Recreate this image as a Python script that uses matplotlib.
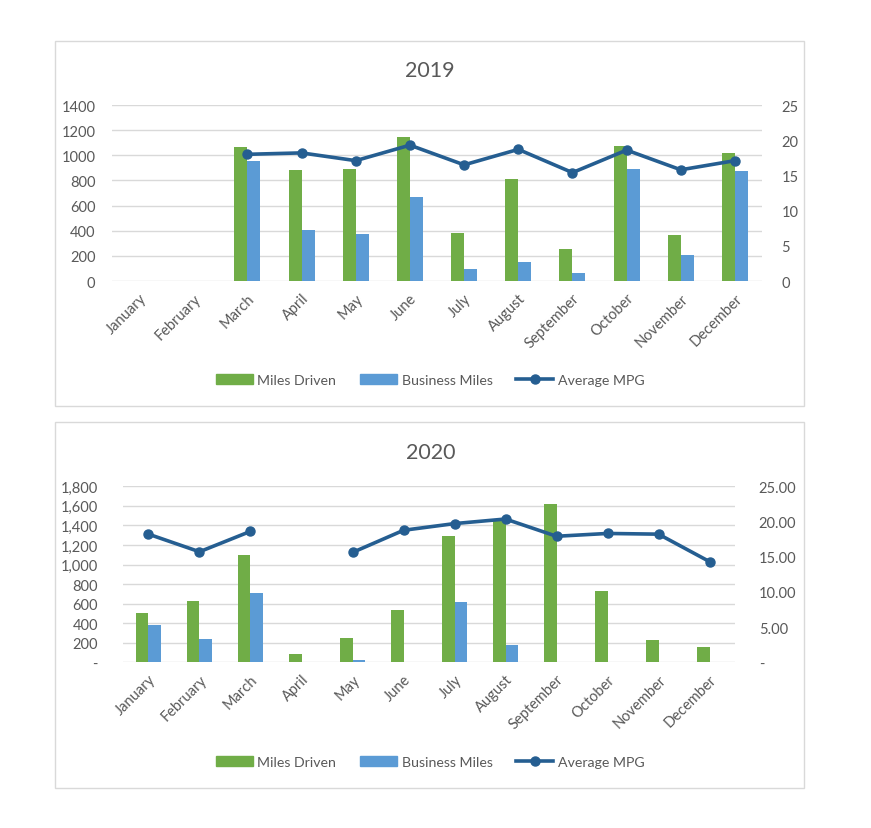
import numpy as np
import matplotlib
matplotlib.use("Agg")
import matplotlib.pyplot as plt
from matplotlib.patches import Rectangle, Patch
from matplotlib.lines import Line2D
from matplotlib.ticker import FuncFormatter

months = ['January', 'February', 'March', 'April', 'May', 'June', 'July',
          'August', 'September', 'October', 'November', 'December']

miles_2019 = [0, 0, 1065, 880, 890, 1145, 383, 809, 254, 1075, 370, 1017]
business_2019 = [0, 0, 954, 407, 375, 668, 92, 155, 63, 890, 209, 875]
mpg_2019 = [np.nan, np.nan, 18.0, 18.2, 17.1, 19.3, 16.5, 18.7, 15.4, 18.6, 15.8, 17.1]

miles_2020 = [501, 627, 1100, 82, 245, 532, 1292, 1448, 1622, 729, 225, 153]
business_2020 = [378, 238, 706, 0, 24, 0, 614, 177, 0, 0, 0, 0]
mpg_2020 = [18.2, 15.7, 18.6, np.nan, 15.6, 18.75, 19.7, 20.35, 17.9, 18.3, 18.2, 14.3]

GREEN = '#70AD47'
BLUE = '#5B9BD5'
LINE = '#255E91'
GRAY = '#595959'
GRID = '#D9D9D9'

plt.rcParams['font.family'] = ['Lato', 'DejaVu Sans']

fig = plt.figure(figsize=(8.71, 8.29), dpi=100)

# panel frames
for y0, h in [(0.509, 0.4403), (0.0483, 0.4414)]:
    fig.patches.append(Rectangle((0.0631, y0), 0.8599, h, transform=fig.transFigure,
                                 fill=False, edgecolor='#D9D9D9', lw=1))


def draw_panel(rect, title, title_y, legend_y, miles, business, mpg, ymax, fmt_left, fmt_right,
               lpad, rpad):
    ax = fig.add_axes(rect)
    x = np.arange(len(months))
    w = 0.24
    ax.bar(x - w / 2, miles, w, color=GREEN, zorder=2)
    ax.bar(x + w / 2, business, w, color=BLUE, zorder=2)
    ax.set_xlim(-0.5, 11.5)
    ax.set_ylim(0, ymax)
    ax.set_yticks(np.arange(0, ymax + 1, 200))
    ax.yaxis.set_major_formatter(FuncFormatter(fmt_left))
    ax.grid(axis='y', color=GRID, lw=1, zorder=0)
    ax.set_axisbelow(True)
    for s in ax.spines.values():
        s.set_visible(False)
    ax.set_xticks(x)
    ax.set_xticklabels(months, rotation=45, ha='right', rotation_mode='anchor')
    ax.tick_params(axis='both', length=0, colors=GRAY, labelsize=10.5)
    ax.tick_params(axis='y', pad=lpad)
    ax.tick_params(axis='x', pad=7)

    ax2 = ax.twinx()
    ax2.plot(x, mpg, color=LINE, lw=2.6, marker='o', ms=6.5, zorder=3)
    ax2.set_ylim(0, 25)
    ax2.set_yticks(np.arange(0, 26, 5))
    ax2.yaxis.set_major_formatter(FuncFormatter(fmt_right))
    for s in ax2.spines.values():
        s.set_visible(False)
    ax2.tick_params(axis='y', length=0, colors=GRAY, labelsize=10.5, pad=rpad)

    fig.text(0.494, title_y, title, ha='center', va='center', fontsize=15.5, color=GRAY)

    handles = [Patch(color=GREEN), Patch(color=BLUE),
               Line2D([], [], color=LINE, lw=2.6, marker='o', ms=6.5)]
    fig.legend(handles, ['Miles Driven', 'Business Miles', 'Average MPG'],
               loc='center', bbox_to_anchor=(0.494, legend_y), ncol=3, frameon=False,
               fontsize=10.2, labelcolor=GRAY, handlelength=2.6, handleheight=0.7,
               handletextpad=0.3, columnspacing=1.7)


draw_panel([0.1286, 0.6598, 0.7463, 0.2123], '2019', 0.9145, 0.540,
           miles_2019, business_2019, mpg_2019, 1400,
           lambda v, p: '%d' % v, lambda v, p: '%d' % v, 12, 14)

draw_panel([0.1412, 0.1999, 0.7027, 0.2123], '2020', 0.4535, 0.0796,
           miles_2020, business_2020, mpg_2020, 1800,
           lambda v, p: '-' if v == 0 else '{:,.0f}'.format(v),
           lambda v, p: '-' if v == 0 else '%.2f' % v, 18, 17)

fig.savefig('out.png', dpi=100)
